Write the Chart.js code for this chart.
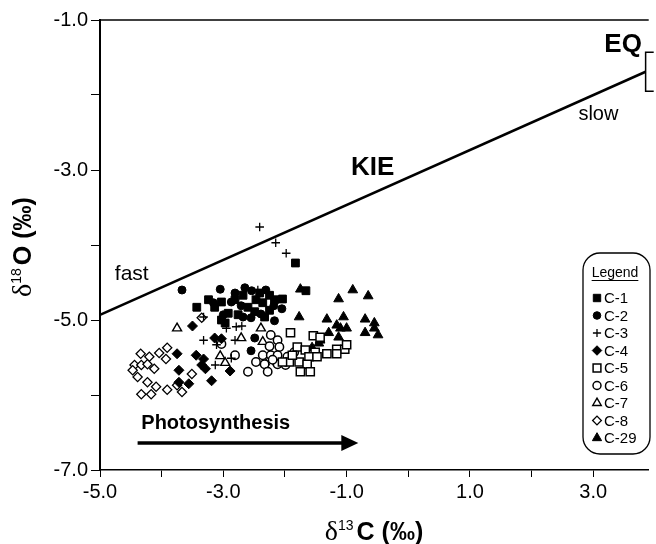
<!DOCTYPE html>
<html>
<head>
<meta charset="utf-8">
<script src="https://cdn.jsdelivr.net/npm/chart.js@4.4.0/dist/chart.umd.min.js"></script>
<style>
  html, body { margin: 0; padding: 0; background: #fff; }
</style>
</head>
<body>
<canvas id="chart" width="656" height="544"></canvas>
<script>
// d13C / d18O pairs, one array per sample
const c1 = [[-1.83,-4.24],[-1.66,-4.61],[-2.04,-4.72],[-3.43,-4.83],[-3.24,-4.73],[-3.14,-4.83],
  [-3.03,-4.76],[-2.92,-4.91],[-2.97,-5.04],[-2.81,-4.73],[-2.60,-4.83],[-2.47,-4.73],[-2.36,-4.77],
  [-2.25,-4.87],[-2.17,-4.73],[-2.49,-4.89],[-2.41,-4.64],[-2.25,-4.67],[-3.03,-5.00],[-2.33,-4.96],
  [-2.68,-4.67],[-2.76,-4.93]];
const c2 = [[-3.67,-4.60],[-3.05,-4.59],[-2.65,-4.57],[-2.81,-4.64],[-3.16,-4.77],[-2.87,-4.76],
  [-2.71,-4.81],[-2.54,-4.61],[-2.55,-4.97],[-2.39,-4.92],[-2.18,-4.81],[-2.05,-4.85],[-2.68,-4.96],
  [-2.17,-5.01],[-2.55,-5.41],[-2.49,-5.24],[-2.31,-4.60],[-3.00,-4.93]];
const c3 = [[-2.41,-3.76],[-2.15,-3.97],[-1.98,-4.11],[-2.44,-4.60],[-3.32,-4.96],[-3.32,-5.27],
  [-3.11,-5.33],[-2.95,-5.11],[-2.79,-5.09],[-2.70,-5.08],[-2.81,-5.27],[-3.13,-5.60],[-2.87,-5.51]];
const c4 = [[-3.50,-5.08],[-3.75,-5.45],[-3.44,-5.47],[-3.32,-5.52],[-3.35,-5.60],[-3.29,-5.65],
  [-3.72,-5.67],[-3.19,-5.81],[-3.72,-5.83],[-3.56,-5.85],[-3.03,-5.25],[-3.14,-5.24],[-2.89,-5.68]];
const c5 = [[-1.91,-5.17],[-1.54,-5.21],[-1.43,-5.23],[-1.80,-5.36],[-1.67,-5.40],[-1.51,-5.43],
  [-1.32,-5.45],[-1.61,-5.49],[-1.48,-5.49],[-1.77,-5.56],[-1.64,-5.59],[-1.93,-5.56],[-1.75,-5.69],
  [-1.59,-5.69],[-1.88,-5.47],[-1.16,-5.39],[-1.03,-5.39],[-1.00,-5.33],[-1.16,-5.45],[-2.04,-5.56]];
const c6 = [[-2.23,-5.20],[-2.12,-5.27],[-2.25,-5.35],[-2.09,-5.36],[-2.36,-5.47],[-2.23,-5.47],
  [-2.12,-5.47],[-1.96,-5.49],[-2.33,-5.59],[-2.12,-5.59],[-1.99,-5.60],[-2.60,-5.69],[-2.28,-5.69],
  [-2.47,-5.56],[-1.85,-5.43],[-2.81,-5.47],[-3.03,-5.32],[-2.20,-5.53]];
const c7 = [[-3.75,-5.11],[-2.71,-5.24],[-2.39,-5.11],[-2.36,-5.29],[-3.05,-5.48],[-2.97,-5.57],
  [-2.33,-5.56],[-2.12,-5.56]];
const c8 = [[-4.34,-5.45],[-4.20,-5.49],[-4.04,-5.44],[-3.91,-5.37],[-3.93,-5.52],[-4.44,-5.60],
  [-4.33,-5.60],[-4.23,-5.59],[-4.12,-5.65],[-4.39,-5.76],[-4.23,-5.83],[-4.09,-5.89],[-4.33,-5.99],
  [-4.17,-5.99],[-3.91,-5.93],[-3.67,-5.96],[-3.75,-5.87],[-3.51,-5.72],[-3.35,-4.97],[-4.47,-5.67]];
const c29 = [[-1.75,-4.59],[-0.90,-4.60],[-1.13,-4.72],[-0.65,-4.68],[-1.77,-4.96],[-1.32,-4.99],
  [-1.05,-4.96],[-0.70,-4.99],[-0.55,-5.04],[-1.16,-5.07],[-1.00,-5.11],[-1.10,-5.11],[-1.29,-5.17],
  [-0.55,-5.11],[-0.70,-5.17],[-0.49,-5.20],[-1.13,-5.23],[-1.43,-5.27],[-1.45,-5.31],[-1.56,-5.37]];

// kinetic isotope effect line, runs into the EQ box at the right edge
const kieX = [-5.0, 3.85];
const kieY = [-4.93, -1.69];
const eqBox = { left: 3.85, top: -1.43, bottom: -1.95 };

const FONT = '"Liberation Sans", Arial, Helvetica, sans-serif';
const SERIF = '"Liberation Serif", "DejaVu Serif", serif';

function series(label, pts, style, radius, filled, bw) {
  return {
    type: 'scatter',
    label: label,
    data: pts.map(p => ({ x: p[0], y: p[1] })),
    pointStyle: style,
    pointRadius: radius,
    backgroundColor: filled ? '#000' : '#fff',
    borderColor: '#000',
    borderWidth: bw,
    pointHoverRadius: radius,
  };
}

const samples = [
  series('C-1', c1, 'rect', 5.5, true, 1),
  series('C-2', c2, 'circle', 4, true, 1),
  series('C-3', c3, 'cross', 4.3, false, 1.3),
  series('C-4', c4, 'rectRot', 5, true, 1),
  series('C-5', c5, 'rect', 5.8, false, 1.5),
  series('C-6', c6, 'circle', 4.2, false, 1.5),
  series('C-7', c7, 'triangle', 5.2, false, 1.4),
  series('C-8', c8, 'rectRot', 4.6, false, 1.3),
  series('C-29', c29, 'triangle', 5.6, true, 1),
];

const kieLine = {
  type: 'line',
  label: 'KIE',
  data: kieX.map((v, i) => ({ x: v, y: kieY[i] })),
  borderColor: '#000',
  borderWidth: 2.5,
  pointRadius: 0,
  fill: false,
};

// text, arrow, EQ box, legend and axis titles
const notes = {
  id: 'notes',
  afterDatasetsDraw(chart) {
    const ctx = chart.ctx;
    const a = chart.chartArea;
    const x = chart.scales.x, y = chart.scales.y;
    ctx.save();
    ctx.strokeStyle = '#000';
    ctx.fillStyle = '#000';

    // top frame
    ctx.lineWidth = 1.5;
    ctx.beginPath();
    ctx.moveTo(a.left, a.top);
    ctx.lineTo(a.right, a.top);
    ctx.stroke();

    // EQ box (cut off at the right)
    const bl = x.getPixelForValue(eqBox.left);
    const bt = y.getPixelForValue(eqBox.top);
    const bb = y.getPixelForValue(eqBox.bottom);
    ctx.lineWidth = 1.5;
    ctx.beginPath();
    ctx.moveTo(a.right + 5, bt);
    ctx.lineTo(bl, bt);
    ctx.lineTo(bl, bb);
    ctx.lineTo(a.right + 5, bb);
    ctx.stroke();

    function label(t, vx, vy, font) {
      ctx.font = font;
      ctx.textAlign = 'left';
      ctx.textBaseline = 'alphabetic';
      ctx.fillText(t, x.getPixelForValue(vx), y.getPixelForValue(vy));
    }
    label('EQ', 3.18, -1.43, 'bold 26px ' + FONT);
    label('slow', 2.76, -2.33, '20px ' + FONT);
    label('KIE', -0.93, -3.07, 'bold 26px ' + FONT);
    label('fast', -4.76, -4.47, '21px ' + FONT);
    label('Photosynthesis', -4.33, -6.45, 'bold 20px ' + FONT);

    // photosynthesis arrow
    const ax0 = x.getPixelForValue(-4.39), ax1 = x.getPixelForValue(-0.81);
    const ay = y.getPixelForValue(-6.64);
    ctx.lineWidth = 3.5;
    ctx.beginPath();
    ctx.moveTo(ax0, ay);
    ctx.lineTo(ax1 - 14, ay);
    ctx.stroke();
    ctx.beginPath();
    ctx.moveTo(ax1, ay);
    ctx.lineTo(ax1 - 17, ay - 8);
    ctx.lineTo(ax1 - 17, ay + 8);
    ctx.closePath();
    ctx.fill();

    // legend box
    const L = 583, R = 650, T = 253, B = 454, r = 17;
    ctx.lineWidth = 1.3;
    ctx.beginPath();
    ctx.moveTo(L + r, T);
    ctx.lineTo(R - r, T);
    ctx.arcTo(R, T, R, T + r, r);
    ctx.lineTo(R, B - r);
    ctx.arcTo(R, B, R - r, B, r);
    ctx.lineTo(L + r, B);
    ctx.arcTo(L, B, L, B - r, r);
    ctx.lineTo(L, T + r);
    ctx.arcTo(L, T, L + r, T, r);
    ctx.closePath();
    ctx.stroke();

    ctx.font = '14px ' + FONT;
    ctx.textAlign = 'center';
    ctx.textBaseline = 'alphabetic';
    ctx.fillText('Legend', 615, 277);
    const uw = ctx.measureText('Legend').width;
    ctx.lineWidth = 1;
    ctx.beginPath();
    ctx.moveTo(615 - uw / 2, 280.5);
    ctx.lineTo(615 + uw / 2, 280.5);
    ctx.stroke();

    chart.data.datasets.filter(d => d.type === 'scatter').forEach((d, i) => {
      const yy = 298 + i * 17.5;
      ctx.fillStyle = d.backgroundColor;
      ctx.strokeStyle = d.borderColor;
      ctx.lineWidth = d.borderWidth;
      Chart.helpers.drawPoint(ctx, {
        pointStyle: d.pointStyle, radius: d.pointRadius * 0.95, borderWidth: d.borderWidth, rotation: 0
      }, 597, yy);
      ctx.fillStyle = '#000';
      ctx.font = '15px ' + FONT;
      ctx.textAlign = 'left';
      ctx.textBaseline = 'middle';
      ctx.fillText(d.label, 604, yy + 1);
    });

    // axis titles: delta, superscript mass number, rest in bold sans
    function title(cx, cy, mass, rest, rot) {
      ctx.save();
      ctx.translate(cx, cy);
      ctx.rotate(rot);
      ctx.fillStyle = '#000';
      ctx.textAlign = 'left';
      ctx.textBaseline = 'alphabetic';
      const f1 = '28px ' + SERIF, f2 = '14px ' + FONT, f3 = 'bold 25px ' + FONT;
      ctx.font = f1; const w1 = ctx.measureText('\u03b4').width;
      ctx.font = f2; const w2 = ctx.measureText(mass).width + 3;
      ctx.font = f3; const w3 = ctx.measureText(rest).width;
      let px = -(w1 + w2 + w3) / 2;
      ctx.font = f1; ctx.fillText('\u03b4', px, 0); px += w1;
      ctx.font = f2; ctx.fillText(mass, px, -10); px += w2;
      ctx.font = f3; ctx.fillText(rest, px, 0);
      ctx.restore();
    }
    title(374, 540, '13', 'C (\u2030)', 0);
    title(31, 247, '18', 'O (\u2030)', -Math.PI / 2);

    ctx.restore();
  }
};

new Chart(document.getElementById('chart'), {
  type: 'scatter',
  data: { datasets: samples.concat([kieLine]) },
  options: {
    responsive: false,
    animation: false,
    devicePixelRatio: 1,
    layout: { padding: { top: 20, right: 0, left: 0, bottom: 0 } },
    plugins: { legend: { display: false }, tooltip: { enabled: false } },
    scales: {
      x: {
        type: 'linear',
        min: -5, max: 3.9,
        afterFit: s => { s.height = 74; },
        ticks: {
          stepSize: 1, includeBounds: false, autoSkip: false, maxRotation: 0, padding: 3,
          color: '#000', font: { family: FONT, size: 20 },
          callback: v => (Math.abs(v % 2) === 1 ? v.toFixed(1) : '')
        },
        grid: { drawOnChartArea: false, drawTicks: true, tickLength: 7, color: '#000', lineWidth: 1 },
        border: { color: '#000', width: 1.5 }
      },
      y: {
        type: 'linear',
        min: -7, max: -1,
        afterFit: s => { s.width = 100; },
        ticks: {
          stepSize: 1, includeBounds: false, autoSkip: false, padding: 3,
          color: '#000', font: { family: FONT, size: 20 },
          callback: v => (Math.abs(v % 2) === 1 ? v.toFixed(1) : '')
        },
        grid: { drawOnChartArea: false, drawTicks: true, tickLength: 9, color: '#000', lineWidth: 1 },
        border: { color: '#000', width: 2 }
      }
    }
  },
  plugins: [notes]
});
</script>
</body>
</html>
